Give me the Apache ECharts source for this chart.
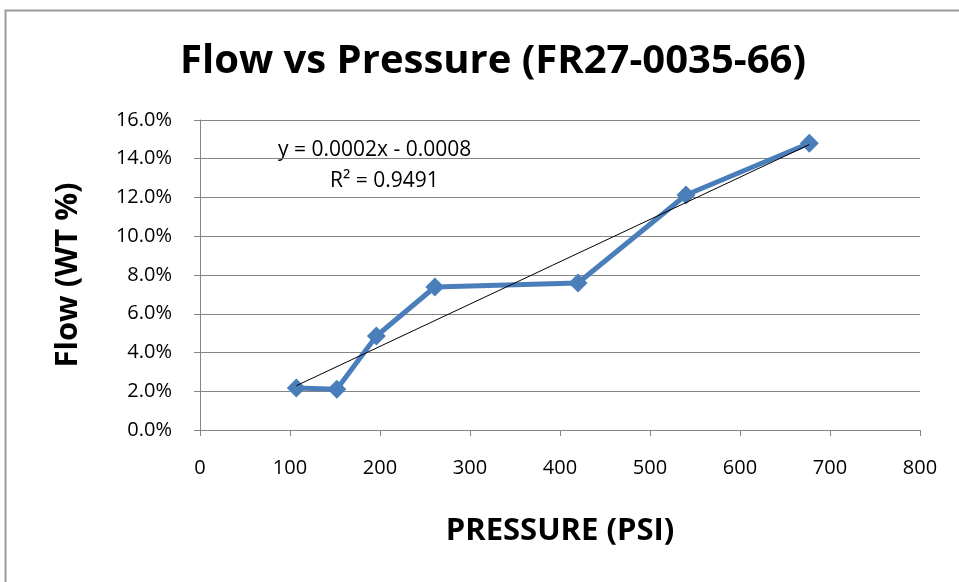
<!DOCTYPE html>
<html>
<head>
<meta charset="utf-8">
<script src="https://cdn.jsdelivr.net/npm/echarts@6/dist/echarts.min.js"></script>
<style>
  html, body { margin: 0; padding: 0; background: #fff; }
  #chart { width: 959px; height: 582px; }
</style>
</head>
<body>
<div id="chart"></div>
<script>
// data
const pressure = [107, 152, 196, 261, 420, 540, 677];
const flow = [0.0217, 0.0210, 0.0485, 0.0738, 0.0759, 0.1213, 0.1480];
const yTicks = [0, 0.02, 0.04, 0.06, 0.08, 0.10, 0.12, 0.14, 0.16];
const xTicks = [0, 100, 200, 300, 400, 500, 600, 700, 800];

// linear trendline (least squares over the data)
function linearFit(xs, ys) {
  const n = xs.length;
  const mx = xs.reduce((a, b) => a + b, 0) / n;
  const my = ys.reduce((a, b) => a + b, 0) / n;
  let sxy = 0, sxx = 0;
  for (let i = 0; i < n; i++) {
    sxy += (xs[i] - mx) * (ys[i] - my);
    sxx += (xs[i] - mx) * (xs[i] - mx);
  }
  const k = sxy / sxx;
  return { k: k, b: my - k * mx };
}
const fit = linearFit(pressure, flow);
const xMin = Math.min(...pressure), xMax = Math.max(...pressure);
const trend = [[xMin, fit.k * xMin + fit.b], [xMax, fit.k * xMax + fit.b]];

const chart = echarts.init(document.getElementById('chart'));
const font = '"Open Sans", "Liberation Sans", sans-serif';

const option = {
  backgroundColor: '#ffffff',
  animation: false,
  title: {
    text: 'Flow vs Pressure (FR27-0035-66)',
    left: 488,
    textAlign: 'center',
    top: 37,
    textStyle: { fontFamily: font, fontSize: 40, fontWeight: 'bold', color: '#000' }
  },
  grid: { left: 200, right: 39, top: 120, bottom: 152 },
  xAxis: {
    type: 'value',
    min: xTicks[0],
    max: xTicks[xTicks.length - 1],
    interval: 100,
    name: 'PRESSURE (PSI)',
    nameLocation: 'middle',
    nameGap: 86,
    nameTextStyle: { fontFamily: font, fontSize: 31, fontWeight: 'bold', color: '#000' },
    axisLine: { lineStyle: { color: '#868686', width: 1 } },
    axisTick: { length: 6, lineStyle: { color: '#868686' } },
    axisLabel: { fontFamily: font, fontSize: 20, color: '#000', margin: 28 },
    splitLine: { show: false }
  },
  yAxis: {
    type: 'value',
    min: yTicks[0],
    max: yTicks[yTicks.length - 1],
    interval: 0.02,
    name: 'Flow (WT %)',
    nameLocation: 'middle',
    nameGap: 116,
    nameRotate: 90,
    nameTextStyle: { fontFamily: font, fontSize: 31, fontWeight: 'bold', color: '#000' },
    axisLine: { show: true, lineStyle: { color: '#868686', width: 1 } },
    axisTick: { show: true, length: 6, lineStyle: { color: '#868686' } },
    axisLabel: {
      fontFamily: font, fontSize: 20, color: '#000', margin: 28,
      formatter: v => (v * 100).toFixed(1) + '%'
    },
    splitLine: { lineStyle: { color: '#868686', width: 1 } }
  },
  graphic: [
    {
      type: 'rect',
      shape: { x: 5.5, y: 10.5, width: 1000, height: 1000 },
      style: { fill: 'none', stroke: '#9a9a9a', lineWidth: 2 },
      silent: true
    },
    {
      type: 'text', left: 278, top: 140,
      style: { text: 'y = 0.0002x - 0.0008', fontFamily: font, fontSize: 21, fill: '#000' }
    },
    {
      type: 'text', left: 330, top: 171,
      style: { text: 'R² = 0.9491', fontFamily: font, fontSize: 21, fill: '#000' }
    }
  ],
  series: [
    {
      name: 'Flow',
      type: 'line',
      data: pressure.map((x, i) => [x, flow[i]]),
      lineStyle: { color: '#4a7ebb', width: 5 },
      itemStyle: { color: '#4a7ebb' },
      symbol: 'diamond',
      symbolSize: 19,
      z: 2
    },
    {
      name: 'Trend',
      type: 'line',
      data: trend,
      symbol: 'none',
      lineStyle: { color: '#000', width: 1 },
      z: 3
    }
  ]
};

chart.setOption(option);
</script>
</body>
</html>
